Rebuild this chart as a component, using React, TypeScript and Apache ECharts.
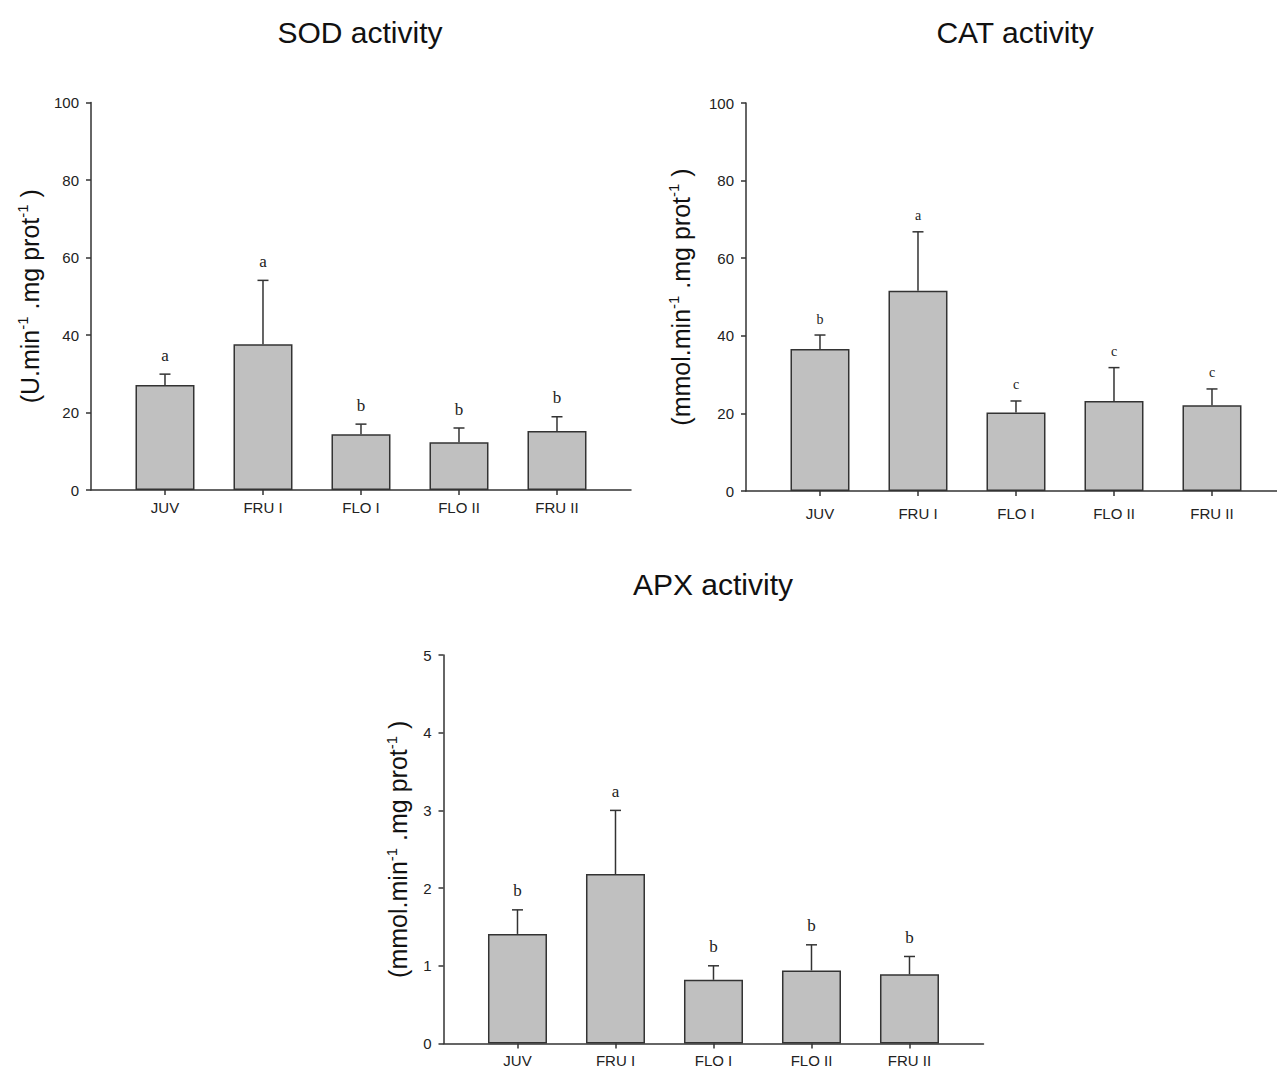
import React, { useEffect, useRef } from 'react';
import * as echarts from 'echarts';

const categories = ['JUV', 'FRU I', 'FLO I', 'FLO II', 'FRU II'];

const sodMean = [27.1, 37.6, 14.4, 12.3, 15.2];
const sodUpper = [29.9, 54.1, 17.0, 16.0, 18.9];
const sodLetters = ['a', 'a', 'b', 'b', 'b'];

const catMean = [36.6, 51.6, 20.2, 23.2, 22.1];
const catUpper = [40.2, 66.8, 23.2, 31.8, 26.3];
const catLetters = ['b', 'a', 'c', 'c', 'c'];

const apxMean = [1.41, 2.18, 0.82, 0.94, 0.89];
const apxUpper = [1.72, 3.0, 1.0, 1.27, 1.12];
const apxLetters = ['b', 'a', 'b', 'b', 'b'];

const titles = ['SOD activity', 'CAT activity', 'APX activity'];

const SANS = '"Liberation Sans", Arial, Helvetica, sans-serif';
const SERIF = '"Liberation Serif", "Times New Roman", serif';
const AXIS = '#333';

type Panel = {
  title: string;
  titleX: number;
  titleY: number;
  left: number;
  top: number;
  height: number;
  max: number;
  interval: number;
  mean: number[];
  upper: number[];
  letters: string[];
  unit: string;
  nameGap: number;
  xMargin: number;
  letterSize: number;
  letterGap: number;
};

const panels: Panel[] = [
  {
    title: titles[0], titleX: 360, titleY: 32,
    left: 91, top: 102.5, height: 387.5, max: 100, interval: 20,
    mean: sodMean, upper: sodUpper, letters: sodLetters, unit: 'U',
    nameGap: 49, xMargin: 10, letterSize: 17, letterGap: 19,
  },
  {
    title: titles[1], titleX: 1015, titleY: 32,
    left: 746, top: 103, height: 388, max: 100, interval: 20,
    mean: catMean, upper: catUpper, letters: catLetters, unit: 'mmol',
    nameGap: 53, xMargin: 15, letterSize: 14, letterGap: 16,
  },
  {
    title: titles[2], titleX: 713, titleY: 584,
    left: 443.5, top: 655, height: 388.5, max: 5, interval: 1,
    mean: apxMean, upper: apxUpper, letters: apxLetters, unit: 'mmol',
    nameGap: 33, xMargin: 9, letterSize: 17, letterGap: 19,
  },
];

const BAND = 98;
const AXIS_W = 540;
const X_MIN = -0.755;
const X_MAX = X_MIN + AXIS_W / BAND;
const idx = categories.map((_, i) => i);

function buildOption() {
  const grid: any[] = [];
  const xAxis: any[] = [];
  const yAxis: any[] = [];
  const series: any[] = [];
  const graphic: any[] = [];

  panels.forEach((p, k) => {
    grid.push({
      left: p.left, top: p.top, width: AXIS_W, height: p.height,
      containLabel: false, outerBoundsMode: 'none',
    });
    xAxis.push({
      type: 'value', gridIndex: k, min: X_MIN, max: X_MAX,
      axisLine: { show: true, onZero: false, lineStyle: { color: AXIS, width: 1.5 } },
      axisTick: { show: true, inside: false, length: 5, customValues: idx, lineStyle: { color: AXIS, width: 1.5 } },
      axisLabel: {
        show: true, customValues: idx, margin: p.xMargin,
        fontSize: 15, color: '#222', fontFamily: SANS,
        formatter: (v: number) => categories[Math.round(v)] ?? '',
      },
      splitLine: { show: false },
    });
    yAxis.push({
      type: 'value', gridIndex: k, min: 0, max: p.max, interval: p.interval,
      name: `{n|(${p.unit}.min}{s|-1}{n| .mg prot}{s|-1}{n| )}`,
      nameLocation: 'middle', nameRotate: 90, nameGap: p.nameGap,
      nameTextStyle: {
        color: '#111', fontFamily: SANS,
        rich: {
          n: { fontSize: 25, lineHeight: 27, fontFamily: SANS, color: '#111', verticalAlign: 'bottom' },
          s: { fontSize: 15, lineHeight: 15, fontFamily: SANS, color: '#111', verticalAlign: 'top' },
        },
      },
      axisLine: { show: true, onZero: false, lineStyle: { color: AXIS, width: 1.5 } },
      axisTick: { show: true, inside: false, length: 5, lineStyle: { color: AXIS, width: 1.5 } },
      axisLabel: { margin: 12, fontSize: 15, color: '#222', fontFamily: SANS },
      splitLine: { show: false },
    });
    series.push({
      type: 'bar', xAxisIndex: k, yAxisIndex: k, barWidth: 59,
      data: p.mean.map((v, i) => [i, v]),
      itemStyle: { color: '#c0c0c0', borderColor: '#333', borderWidth: 1.5 },
      z: 2,
    });
    const letters = p.letters;
    series.push({
      type: 'custom', xAxisIndex: k, yAxisIndex: k,
      data: p.mean.map((v, i) => [i, v, p.upper[i]]),
      z: 3,
      renderItem: (params: any, api: any) => {
        const x = api.value(0);
        const m = api.value(1);
        const u = api.value(2);
        const p0 = api.coord([x, m]);
        const p1 = api.coord([x, u]);
        return {
          type: 'group',
          children: [
            { type: 'line', shape: { x1: p0[0], y1: p0[1], x2: p1[0], y2: p1[1] }, style: { stroke: '#333', lineWidth: 1.5 } },
            { type: 'line', shape: { x1: p1[0] - 5.5, y1: p1[1], x2: p1[0] + 5.5, y2: p1[1] }, style: { stroke: '#333', lineWidth: 1.5 } },
            {
              type: 'text', x: p1[0], y: p1[1] - p.letterGap,
              style: {
                text: letters[params.dataIndex], fill: '#222',
                fontSize: p.letterSize, fontFamily: SERIF,
                align: 'center', verticalAlign: 'middle',
              },
            },
          ],
        };
      },
    });
    graphic.push({
      type: 'text', x: p.titleX, y: p.titleY,
      style: {
        text: p.title, fill: '#111', fontSize: 30, fontFamily: SANS,
        align: 'center', verticalAlign: 'middle',
      },
    });
  });

  return { animation: false, backgroundColor: '#fff', grid, xAxis, yAxis, series, graphic };
}

export default function App() {
  const ref = useRef<HTMLDivElement>(null);
  useEffect(() => {
    const chart = echarts.init(ref.current!, null, { renderer: 'svg' });
    chart.setOption(buildOption() as any);
    return () => chart.dispose();
  }, []);
  return (
    <div
      ref={ref}
      style={{ position: 'absolute', left: 0, top: 0, width: 1277, height: 1069, background: '#fff' }}
    />
  );
}
